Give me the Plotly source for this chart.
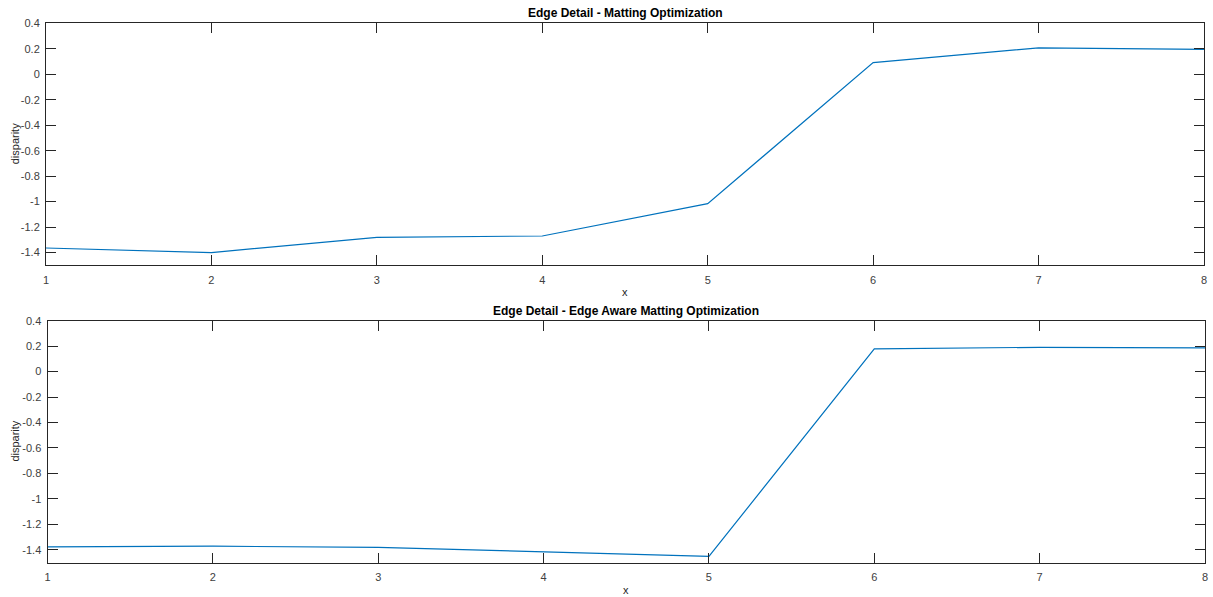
import plotly.graph_objects as go

x_vals = [1, 2, 3, 4, 5, 6, 7, 8]
matting = [-1.364, -1.40, -1.28, -1.27, -1.016, 0.092, 0.207, 0.196]
edge_aware = [-1.377, -1.372, -1.381, -1.414, -1.452, 0.178, 0.191, 0.186]

y_ticks = [-1.4, -1.2, -1.0, -0.8, -0.6, -0.4, -0.2, 0.0, 0.2, 0.4]
y_ticktext = ["-1.4", "-1.2", "-1", "-0.8", "-0.6", "-0.4", "-0.2", "0", "0.2", "0.4"]
x_ticks = [1, 2, 3, 4, 5, 6, 7, 8]

titles = ["Edge Detail - Matting Optimization", "Edge Detail - Edge Aware Matting Optimization"]

W, H = 1213, 597
line_color = "#0072BD"
axis_color = "#262626"
tick_font = dict(family="Liberation Sans, Arial, sans-serif", size=11, color="#404040")

fig = go.Figure()
fig.add_trace(go.Scatter(x=x_vals, y=matting, mode="lines",
                         line=dict(color=line_color, width=1.2), xaxis="x", yaxis="y"))
fig.add_trace(go.Scatter(x=x_vals, y=edge_aware, mode="lines",
                         line=dict(color=line_color, width=1.2), xaxis="x2", yaxis="y2"))

def xax(domain, anchor):
    return dict(domain=domain, anchor=anchor, range=[1, 8], tickvals=x_ticks,
                showline=True, linecolor=axis_color, linewidth=1, mirror="ticks",
                ticks="inside", ticklen=10, tickcolor=axis_color, tickwidth=1,
                showgrid=False, zeroline=False, tickfont=tick_font, ticklabelstandoff=4,
                automargin=False)

def yax(domain, anchor):
    return dict(domain=domain, anchor=anchor, range=[-1.5, 0.4], tickvals=y_ticks,
                ticktext=y_ticktext,
                showline=True, linecolor=axis_color, linewidth=1, mirror="ticks",
                ticks="inside", ticklen=10, tickcolor=axis_color, tickwidth=1,
                showgrid=False, zeroline=False, tickfont=tick_font, ticklabelstandoff=3,
                automargin=False)

top_px = (23.3, 265.3)
bot_px = (320.7, 562.5)
xd_top = [46 / W, 1204 / W]
xd_bot = [47.5 / W, 1205 / W]
yd_top = [1 - top_px[1] / H, 1 - top_px[0] / H]
yd_bot = [1 - bot_px[1] / H, 1 - bot_px[0] / H]

fig.update_layout(
    width=W, height=H,
    margin=dict(l=0, r=0, t=0, b=0, autoexpand=False),
    paper_bgcolor="white", plot_bgcolor="white",
    showlegend=False,
    xaxis=xax(xd_top, "y"),
    yaxis=yax(yd_top, "x"),
    xaxis2=xax(xd_bot, "y2"),
    yaxis2=yax(yd_bot, "x2"),
)

label_font = dict(family="Liberation Sans, Arial, sans-serif", size=11, color="#262626")
title_font = dict(family="Liberation Sans, Arial, sans-serif", size=12, color="#000000")

annos = []
for i, (ypx, xd) in enumerate([(top_px, xd_top), (bot_px, xd_bot)]):
    cx = (xd[0] + xd[1]) / 2
    annos.append(dict(text="<b>" + titles[i] + "</b>", x=cx, y=1 - (ypx[0] - 10) / H,
                      xref="paper", yref="paper", showarrow=False, font=title_font,
                      xanchor="center", yanchor="middle"))
    annos.append(dict(text="x", x=cx, y=1 - (ypx[1] + 27) / H,
                      xref="paper", yref="paper", showarrow=False, font=label_font,
                      xanchor="center", yanchor="middle"))
    annos.append(dict(text="disparity", x=15 / W, y=1 - ((ypx[0] + ypx[1]) / 2) / H,
                      xref="paper", yref="paper", showarrow=False, font=label_font,
                      textangle=-90, xanchor="center", yanchor="middle"))
fig.update_layout(annotations=annos)

fig.write_html("out.html")
